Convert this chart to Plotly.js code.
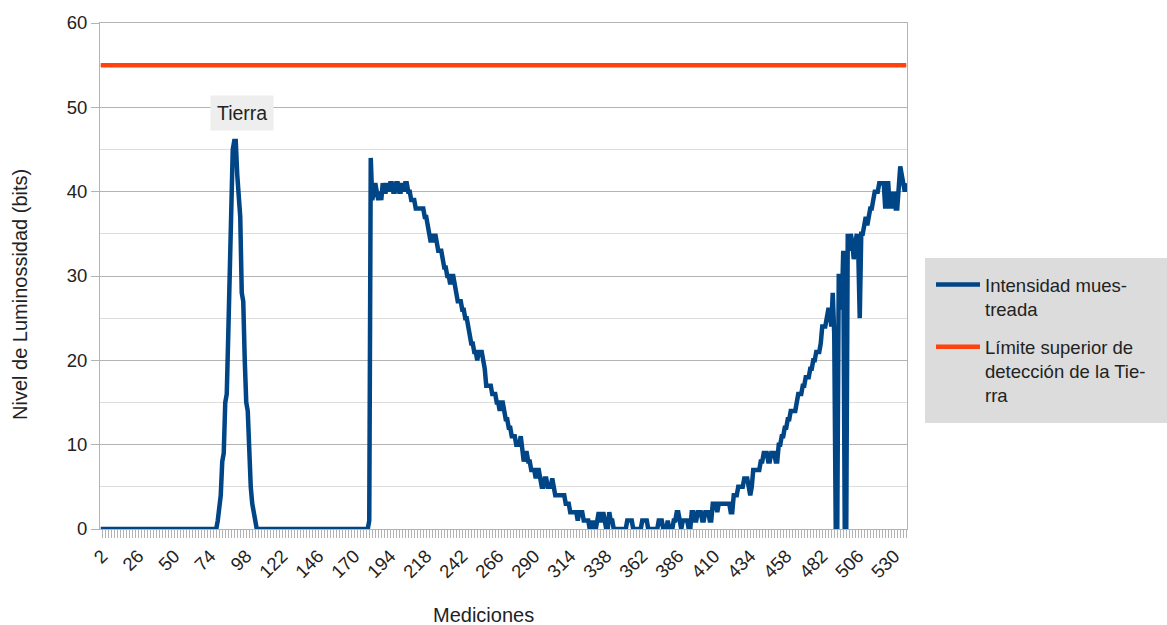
<!DOCTYPE html>
<html>
<head>
<meta charset="utf-8">
<script src="https://cdn.plot.ly/plotly-3.0.1.min.js"></script>
<style>html,body{margin:0;padding:0;background:#fff;}#chart{width:1167px;height:625px;}</style>
</head>
<body>
<div id="chart"></div>
<script>
const intensidad = [
0,0,0,0,0,0,0,0,0,0,
0,0,0,0,0,0,0,0,0,0,
0,0,0,0,0,0,0,0,0,0,
0,0,0,0,0,0,0,0,0,0,
0,0,0,0,0,0,0,0,0,0,
0,0,0,0,0,0,0,0,0,0,
0,0,0,0,0,0,0,0,0,0,
0,0,0,0,0,0,0,0,1,3,
4,8,9,15,16,23,31,40,45,46,
46,42,38,37,28,27,20,15,14,8,
5,3,2,1,0,0,0,0,0,0,
0,0,0,0,0,0,0,0,0,0,
0,0,0,0,0,0,0,0,0,0,
0,0,0,0,0,0,0,0,0,0,
0,0,0,0,0,0,0,0,0,0,
0,0,0,0,0,0,0,0,0,0,
0,0,0,0,0,0,0,0,0,0,
0,0,0,0,0,0,0,0,0,1,
44,39,40,41,40,39,40,39,41,40,
40,41,40,41,41,40,40,41,41,40,
40,41,40,41,41,40,40,39,39,39,
38,38,38,38,38,38,37,37,36,35,
34,35,34,35,34,33,33,33,32,31,
31,30,30,29,30,30,29,28,27,27,
27,26,26,25,25,24,23,22,22,21,
21,20,21,21,21,20,19,17,17,17,
17,16,16,16,15,15,14,15,15,14,
13,13,12,12,11,11,11,10,10,10,
11,9,8,9,9,8,8,7,7,7,
6,7,7,6,5,5,6,6,5,5,
5,6,5,4,4,4,4,4,4,4,
3,3,3,2,2,2,2,2,1,2,
2,2,1,1,1,1,0,0,1,0,
0,1,2,1,1,2,1,0,0,2,
1,1,0,0,0,0,0,0,0,0,
0,1,1,1,1,0,0,0,0,0,
0,1,1,1,1,0,0,0,0,0,
0,0,1,1,1,0,0,0,1,0,
0,0,1,1,2,2,1,0,1,1,
1,1,0,0,2,2,1,1,2,2,
2,1,1,2,2,2,1,1,3,3,
3,2,3,3,3,3,3,3,3,3,
2,2,4,4,4,5,5,5,5,6,
6,6,5,4,5,7,7,7,7,7,
8,8,9,9,9,8,8,9,9,9,
8,8,10,10,11,11,12,12,13,13,
14,14,14,14,15,16,16,16,17,17,
18,18,18,19,19,20,20,21,21,21,
22,24,24,24,25,26,26,24,28,23,
0,0,30,30,26,33,0,0,35,33,
35,34,32,34,35,33,25,35,35,36,
37,36,37,38,38,39,40,40,40,41,
41,41,41,38,41,41,38,40,38,40,
38,38,40,43,42,41,40,41
];
// Límite superior de detección de la Tierra
const limiteSuperior = 55;
// Etiquetas del eje X
const tickValores = [2,26,50,74,98,122,146,170,194,218,242,266,290,314,338,362,386,410,434,458,482,506,530];
const tickTextos = ["2","26","50","74","98","122","146","170","194","218","242","266","290","314","338","362","386","410","434","458","482","506","530"];
const yTicks = [0,10,20,30,40,50,60];
const nombres = ["Intensidad mues-<br>treada", "Límite superior de<br>detección de la Tie-<br>rra"];

const mediciones = intensidad.map((_, i) => i + 1);
const limite = mediciones.map(() => limiteSuperior);

const FONT = "Liberation Sans, Arial, sans-serif";
const TXT = "#222222";

// plot area in pixels: left 100, right 907, top 23, bottom 529
const PL = 100, PR = 907, PT = 23, PB = 529;
const px = v => (v - PL) / (PR - PL);
const py = v => (PB - v) / (PB - PT);

const traces = [
  {x: mediciones, y: intensidad, type: "scatter", mode: "lines", name: nombres[0],
   legendgroup: "a", line: {color: "#004586", width: 4.5}},
  {x: mediciones, y: limite, type: "scatter", mode: "lines", name: nombres[1],
   legendgroup: "b", line: {color: "#ff420e", width: 4.5}}
];

const layout = {
  width: 1167, height: 625,
  margin: {l: PL, r: 1167 - PR, t: PT, b: 625 - PB},
  paper_bgcolor: "#ffffff", plot_bgcolor: "#ffffff",
  font: {family: FONT, size: 18.5, color: TXT},
  showlegend: true,
  legend: {x: px(931), xanchor: "left", y: py(266), yanchor: "top",
    bgcolor: "rgba(0,0,0,0)", font: {family: FONT, size: 18.5, color: TXT},
    valign: "top", itemwidth: 44, tracegroupgap: 11},
  xaxis: {
    range: [0.5, 538.5], tickmode: "array", tickvals: tickValores, ticktext: tickTextos,
    tickangle: -45, ticks: "outside", ticklen: 8, tickcolor: "#b3b3b3",
    minor: {dtick: 2, tick0: 0, ticks: "outside", ticklen: 8, tickcolor: "#b3b3b3", showgrid: false},
    showgrid: false, zeroline: false, showline: true, linecolor: "#b3b3b3", mirror: true,
    tickfont: {family: FONT, size: 18.5, color: TXT}
  },
  yaxis: {
    range: [0, 60], tickmode: "array", tickvals: yTicks,
    ticks: "outside", ticklen: 8, tickcolor: "#b3b3b3",
    showgrid: true, gridcolor: "#b3b3b3", gridwidth: 1,
    minor: {dtick: 5, showgrid: true, gridcolor: "#dddddd", ticks: ""},
    zeroline: false, showline: true, linecolor: "#b3b3b3", mirror: true,
    tickfont: {family: FONT, size: 18.5, color: TXT}
  },
  shapes: [{
    type: "rect", xref: "paper", yref: "paper",
    x0: px(925), x1: px(1175), y0: py(423), y1: py(258),
    fillcolor: "#dcdcdc", line: {width: 0}, layer: "below"
  }],
  annotations: [
    {x: 95, y: 49.3, xref: "x", yref: "y", text: "Tierra", showarrow: false,
     bgcolor: "#eeeeee", borderpad: 6, font: {family: FONT, size: 19.5, color: TXT}},
    {x: px(483), y: py(615), xref: "paper", yref: "paper", text: "Mediciones", showarrow: false,
     xanchor: "center", yanchor: "middle", font: {family: FONT, size: 20, color: TXT}},
    {x: px(20), y: py(295), xref: "paper", yref: "paper", text: "Nivel de Luminossidad (bits)", showarrow: false,
     textangle: -90, xanchor: "center", yanchor: "middle", font: {family: FONT, size: 20, color: TXT}}
  ]
};

Plotly.newPlot("chart", traces, layout, {displayModeBar: false, staticPlot: true});
</script>
</body>
</html>
